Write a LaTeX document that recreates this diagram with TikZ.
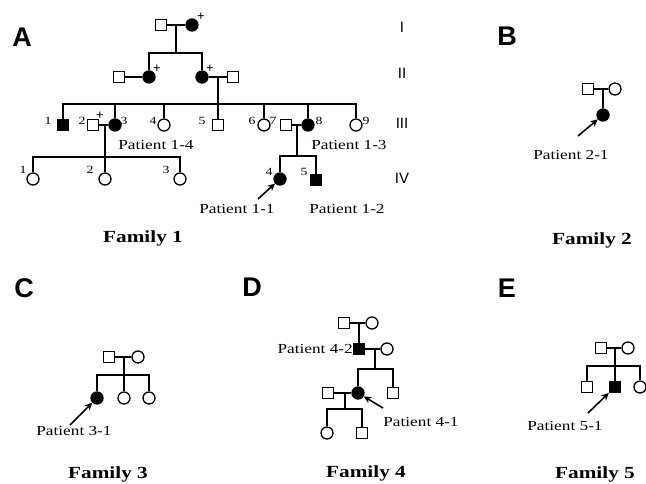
\documentclass[tikz,border=0pt]{standalone}
\usepackage{fontspec}
\setmainfont{Liberation Serif}
\newfontfamily\wide[FakeStretch=1.25]{Liberation Serif}
\newfontfamily\panelfont{Liberation Sans}
\usetikzlibrary{arrows.meta}

\tikzset{
  ind/.style={draw=black, line width=1.3pt, fill=white, inner sep=0pt},
  male/.style={ind, rectangle, minimum size=11pt},
  female/.style={ind, circle, minimum size=12pt},
  amale/.style={male, fill=black},
  afemale/.style={female, fill=black},
  link/.style={line width=1.9pt},
  num/.style={font=\wide\fontsize{11}{11}\selectfont, inner sep=0pt},
  plus/.style={font=\panelfont\fontsize{13}{13}\selectfont, inner sep=0pt},
  pat/.style={font=\wide\fontsize{13.8}{14}\selectfont, inner sep=0pt},
  fam/.style={font=\wide\bfseries\fontsize{17}{18}\selectfont, inner sep=0pt},
  panel/.style={font=\panelfont\bfseries\fontsize{27}{28}\selectfont, inner sep=0pt},
  gen/.style={font=\panelfont\fontsize{15}{16}\selectfont, inner sep=0pt},
  proband/.style={line width=1.6pt, -{Stealth[length=7.5pt,width=7pt]}}
}

\begin{document}
\begin{tikzpicture}[x=1pt,y=-1pt]
\useasboundingbox[fill=white] (0,0) rectangle (646,484);

% ---------------- Panel A: Family 1 ----------------
\node[panel] (pA) at (22,37) {A};
\node[gen] (gI)   at (402,27)  {I};
\node[gen] (gII)  at (402,73)  {II};
\node[gen] (gIII) at (402,123) {III};
\node[gen] (gIV)  at (402,178) {IV};

% generation I
\node[male]    (I1) at (161,25) {};
\node[afemale] (I2) at (192,25) {};
\node[plus] (pI2) at (201,17) {+};
\coordinate (m1) at (176,25);
\coordinate (s1) at (176,53);

% generation II
\node[male]    (II1) at (119,77) {};
\node[afemale] (II2) at (149,77) {};
\node[plus] (pII2) at (157,69) {+};
\node[afemale] (II3) at (202,77) {};
\node[plus] (pII3) at (210,69) {+};
\node[male]    (II4) at (233,77) {};
\coordinate (m2) at (218,77);
\coordinate (s2) at (218,104);

% generation III
\node[amale]   (III1) at (63,125)  {};
\node[male]    (III2) at (93,125)  {};
\node[afemale] (III3) at (115,125) {};
\node[female]  (III4) at (164,125) {};
\node[male]    (III5) at (218,125) {};
\node[female]  (III6) at (264,125) {};
\node[male]    (III7) at (286,125) {};
\node[afemale] (III8) at (308,125) {};
\node[female]  (III9) at (356,125) {};
\node[plus] (pIII2) at (100,116) {+};
\node[num] (nIII1) at (48,121)  {1};
\node[num] (nIII2) at (82,121)  {2};
\node[num] (nIII3) at (124,121) {3};
\node[num] (nIII4) at (153,121) {4};
\node[num] (nIII5) at (202,121) {5};
\node[num] (nIII6) at (252,121) {6};
\node[num] (nIII7) at (273,121) {7};
\node[num] (nIII8) at (319,121) {8};
\node[num] (nIII9) at (366,121) {9};
\coordinate (m3) at (105,125);
\coordinate (s3) at (105,157);
\coordinate (m4) at (297,125);
\coordinate (s4) at (297,156);

% generation IV
\node[female]  (IV1) at (33,179)  {};
\node[female]  (IV2) at (105,179) {};
\node[female]  (IV3) at (180,179) {};
\node[afemale] (IV4) at (280,179) {};
\node[amale]   (IV5) at (316,180) {};
\node[num] (nIV1) at (23,170)  {1};
\node[num] (nIV2) at (90,170)  {2};
\node[num] (nIV3) at (166,170) {3};
\node[num] (nIV4) at (269,172) {4};
\node[num] (nIV5) at (304,172) {5};

\node[pat] (t14) at (156,145) {Patient 1-4};
\node[pat] (t13) at (349,145) {Patient 1-3};
\node[pat] (t11) at (237,209) {Patient 1-1};
\node[pat] (t12) at (347,209) {Patient 1-2};
\coordinate (a11) at (258,199);
\node[fam] (f1) at (143,238) {Family 1};

\draw[link] (I1) -- (I2);
\draw[link] (m1) -- (s1);
\draw[link] (II2) |- (s1) -| (II3);
\draw[link] (II1) -- (II2);
\draw[link] (II3) -- (II4);
\draw[link] (m2) -- (s2);
\draw[link] (III1) |- (s2) -| (III9);
\foreach \c in {III3,III4,III5,III6,III8}
  \draw[link] (\c) -- (\c |- s2);
\draw[link] (III2) -- (III3);
\draw[link] (m3) -- (s3);
\draw[link] (IV1) |- (s3) -| (IV3);
\draw[link] (IV2) -- (IV2 |- s3);
\draw[link] (III7) -- (III8);
\draw[link] (m4) -- (s4);
\draw[link] (IV4) |- (s4) -| (IV5);
\draw[proband] (a11) -- (IV4);

% ---------------- Panel B: Family 2 ----------------
\node[panel] (pB) at (507,36) {B};
\node[male]    (B1) at (588,89)  {};
\node[female]  (B2) at (615,89)  {};
\node[afemale] (B3) at (603,115) {};
\coordinate (mB) at (603,89);
\coordinate (aB) at (578,136);
\node[pat] (t21) at (571,155) {Patient 2-1};
\node[fam] (f2) at (592,240) {Family 2};
\draw[link] (B1) -- (B2);
\draw[link] (mB) -- (B3);
\draw[proband] (aB) -- (B3);

% ---------------- Panel C: Family 3 ----------------
\node[panel] (pC) at (24,288) {C};
\node[male]    (C1) at (109,357) {};
\node[female]  (C2) at (138,357) {};
\node[afemale] (C3) at (97,398)  {};
\node[female]  (C4) at (124,398) {};
\node[female]  (C5) at (149,398) {};
\coordinate (mC) at (124,357);
\coordinate (sC) at (124,375);
\coordinate (aC) at (70,425);
\node[pat] (t31) at (74,431) {Patient 3-1};
\node[fam] (f3) at (108,474) {Family 3};
\draw[link] (C1) -- (C2);
\draw[link] (mC) -- (C4);
\draw[link] (C3) |- (sC) -| (C5);
\draw[proband] (aC) -- (C3);

% ---------------- Panel D: Family 4 ----------------
\node[panel] (pD) at (252,287) {D};
\node[male]    (D1) at (344,323) {};
\node[female]  (D2) at (372,323) {};
\node[amale]   (D3) at (359,349) {};
\node[female]  (D4) at (387,349) {};
\node[male]    (D5) at (328,393) {};
\node[afemale] (D6) at (358,393) {};
\node[male]    (D7) at (393,393) {};
\node[female]  (D8) at (327,433) {};
\node[male]    (D9) at (362,433) {};
\coordinate (mD1) at (359,323);
\coordinate (mD2) at (375,349);
\coordinate (sD2) at (375,369);
\coordinate (mD3) at (345,393);
\coordinate (sD3) at (345,409);
\coordinate (aD) at (383,408);
\node[pat, anchor=east] (t42) at (353,349) {Patient 4-2};
\node[pat] (t41) at (421,422) {Patient 4-1};
\node[fam] (f4) at (366,473) {Family 4};
\draw[link] (D1) -- (D2);
\draw[link] (mD1) -- (D3);
\draw[link] (D3) -- (D4);
\draw[link] (mD2) -- (sD2);
\draw[link] (D6) |- (sD2) -| (D7);
\draw[link] (D5) -- (D6);
\draw[link] (mD3) -- (sD3);
\draw[link] (D8) |- (sD3) -| (D9);
\draw[proband] (aD) -- (D6);

% ---------------- Panel E: Family 5 ----------------
\node[panel] (pE) at (507,288) {E};
\node[male]   (E1) at (601,348) {};
\node[female] (E2) at (628,348) {};
\node[male]   (E3) at (587,387) {};
\node[amale]  (E4) at (615,387) {};
\node[female] (E5) at (640,387) {};
\coordinate (mE) at (615,348);
\coordinate (sE) at (615,366);
\coordinate (aE) at (588,413);
\node[pat] (t51) at (565,426) {Patient 5-1};
\node[fam] (f5) at (595,474) {Family 5};
\draw[link] (E1) -- (E2);
\draw[link] (mE) -- (E4);
\draw[link] (E3) |- (sE) -| (E5);
\draw[proband] (aE) -- (E4);
\end{tikzpicture}
\end{document}
